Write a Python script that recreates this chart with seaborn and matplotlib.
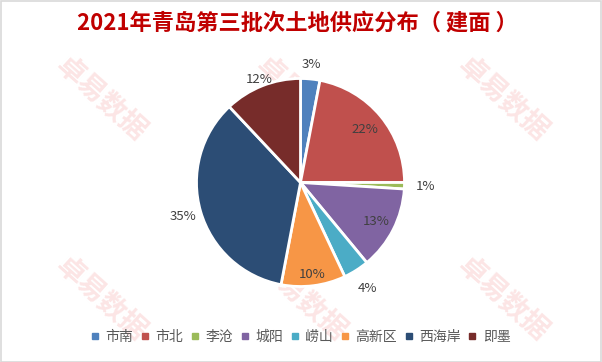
import matplotlib
matplotlib.use("Agg")
import matplotlib.pyplot as plt
import seaborn as sns
import numpy as np
from matplotlib.lines import Line2D
from matplotlib.patches import Rectangle

# ---- data ----
title = "2021年青岛第三批次土地供应分布（ 建面 ）"
districts = ["市南", "市北", "李沧", "城阳", "崂山", "高新区", "西海岸", "即墨"]
shares = [3, 22, 1, 13, 4, 10, 35, 12]
colors = ["#4F81BD", "#C0504D", "#9BBB59", "#8064A2", "#4BACC6", "#F79646", "#2C4D75", "#772C2A"]
label_dist = [1.14, 0.80, 1.20, 0.82, 1.21, 0.89, 1.18, 1.07]
watermark = "卓易数据"

sns.set_theme(style="white")
plt.rcParams['font.family'] = ['Noto Sans CJK SC', 'DejaVu Sans']

W, H = 602, 362
fig = plt.figure(figsize=(W / 100, H / 100), dpi=100)
fig.patch.set_facecolor("white")

# watermarks
for wx in (100, 300, 502):
    for wy in (100, 300):
        fig.text(wx / W, 1 - wy / H, watermark, fontsize=20, fontweight="bold",
                 color="#FCE5E5", rotation=-42, ha="center", va="center", zorder=-5)

# pie axes
cx, cy, R = 300.5, 182.5, 104
half = R * 1.35
ax = fig.add_axes([(cx - half) / W, (H - cy - half) / H, 2 * half / W, 2 * half / H])
ax.patch.set_visible(False)
ax.set_zorder(1)

wedges, texts, autotexts = ax.pie(
    shares, colors=colors, startangle=90, counterclock=False, radius=1,
    autopct=lambda p: f"{p:.0f}%", pctdistance=0.8,
    wedgeprops=dict(edgecolor="white", linewidth=2),
    textprops=dict(color="#404040", fontsize=9.5))

for w, t, d in zip(wedges, autotexts, label_dist):
    ang = np.deg2rad((w.theta1 + w.theta2) / 2)
    t.set_position((d * np.cos(ang), d * np.sin(ang)))
    t.set_ha("center")
    t.set_va("center")

ax.set_xlim(-1.35, 1.35)
ax.set_ylim(-1.35, 1.35)
ax.set_aspect("equal")
ax.axis("off")

# title
fig.text(297 / W, 1 - 23 / H, title, fontsize=16, fontweight="bold",
         color="#C00000", ha="center", va="center")

# legend
handles = [Line2D([0], [0], marker="s", color="none", markerfacecolor=c,
                  markeredgecolor=c, markersize=5) for c in colors]
leg = fig.legend(handles, districts, loc="center", bbox_to_anchor=(301 / W, 1 - 337 / H),
                 ncol=len(districts), frameon=False, fontsize=10,
                 handlelength=0.5, handletextpad=0.5, columnspacing=0.6)
for t in leg.get_texts():
    t.set_color("#595959")

# border
fig.patches.append(Rectangle((0.5 / W, 0.5 / H), 1 - 1.5 / W, 1 - 1.5 / H,
                             transform=fig.transFigure, fill=False,
                             edgecolor="#D9D9D9", linewidth=1.2))

fig.savefig("out.png", dpi=100)
